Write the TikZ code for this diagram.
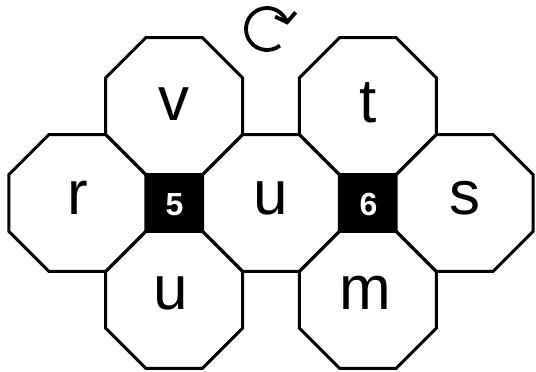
\documentclass[tikz,border=0pt]{standalone}
\usepackage{fontspec}
\setmainfont{Liberation Sans}
\usetikzlibrary{shapes.geometric,arrows.meta}
\begin{document}
\begin{tikzpicture}[x=1pt,y=-1pt,
  oct/.style={regular polygon, regular polygon sides=8, minimum size=148.2pt,
    inner sep=0pt, outer sep=0pt, draw=black, line width=3pt},
  sq/.style={rectangle, minimum size=56.7pt, inner sep=0pt, outer sep=0pt, fill=black},
  lbl/.style={font=\fontsize{62}{62}\selectfont, anchor=base, inner sep=0pt},
  num/.style={font=\fontsize{32}{32}\selectfont\bfseries, text=white, inner sep=0pt}]
\useasboundingbox (0,0) rectangle (536,372);
% octagons
\node[oct] (oR) at (77.4,203) {};
\node[oct] (oU) at (271,203) {};
\node[oct] (oS) at (464.6,203) {};
\node[oct] (oV) at (174.2,106.2) {};
\node[oct] (oB) at (174.2,299.8) {};
\node[oct] (oT) at (367.8,106.2) {};
\node[oct] (oM) at (367.8,299.8) {};
% squares
\node[sq] (q5) at (174.2,203) {};
\node[sq] (q6) at (367.8,203) {};
\node[num] (n5) at (174.5,205) {5};
\node[num] (n6) at (368.5,204) {6};
% labels
\node[lbl] (lV) at ([yshift=-14pt]oV.center) {v};
\node[lbl] (lT) at ([yshift=-16pt]oT.center) {t};
\node[lbl] (lR) at ([yshift=-11pt]oR.center) {r};
\node[lbl] (lU) at ([yshift=-11pt]oU.center) {u};
\node[lbl] (lS) at ([yshift=-11pt]oS.center) {s};
\node[lbl] (lB) at ([yshift=-10pt,xshift=-3pt]oB.center) {u};
\node[lbl] (lM) at ([yshift=-10pt,xshift=-2pt]oM.center) {m};
% rotation symbol
\coordinate (rc) at (267,29);
\draw[line width=3.8pt, -{Straight Barb[length=8pt,width=21pt,line width=3.8pt]}]
  (rc) ++(52:21) arc[start angle=52, end angle=348, radius=21];
\end{tikzpicture}
\end{document}
